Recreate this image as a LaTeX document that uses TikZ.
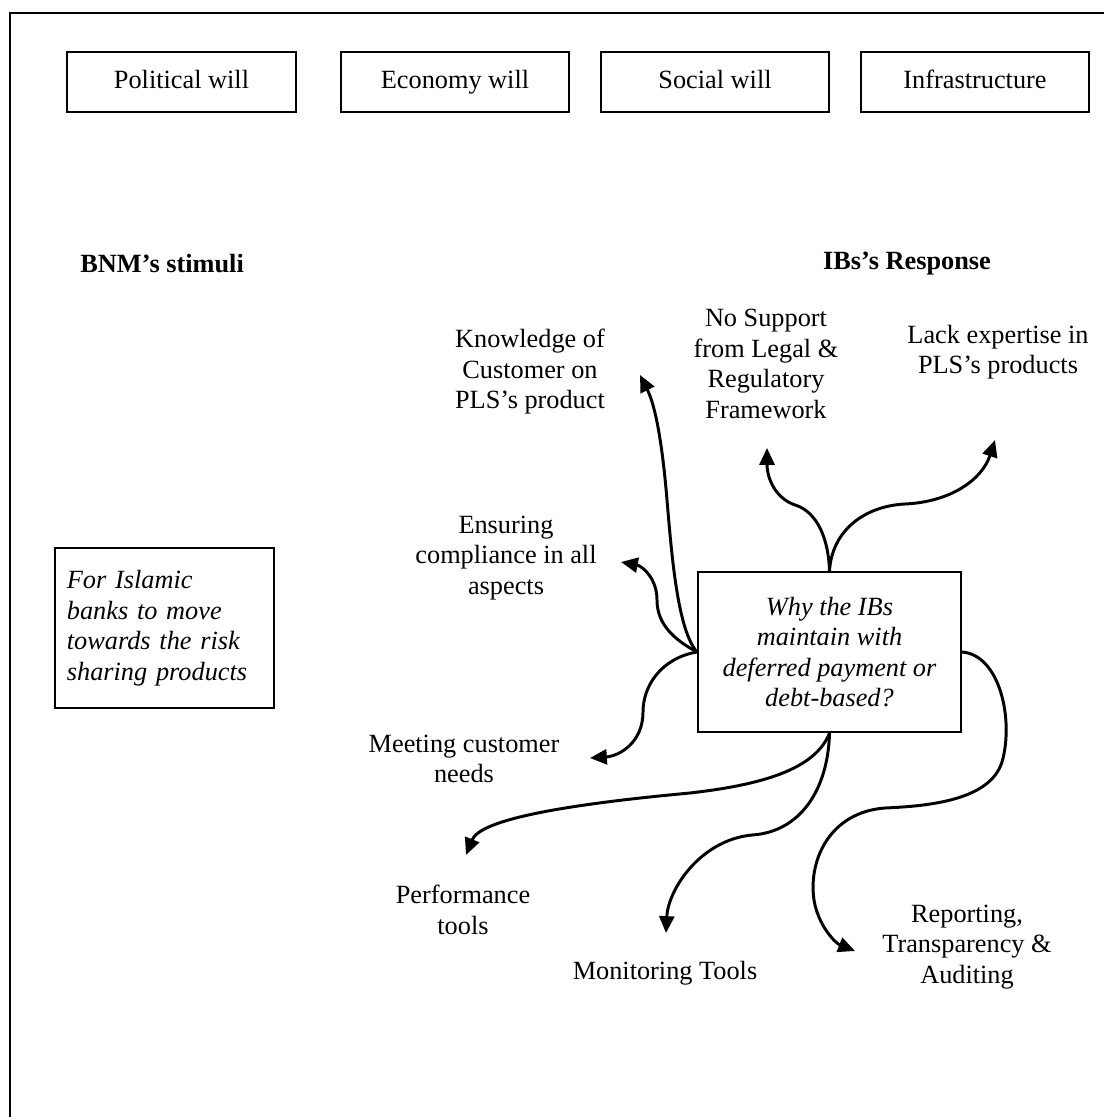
\documentclass[tikz,border=0pt]{standalone}
\usepackage{fontspec}
\setmainfont{Liberation Serif}
\usetikzlibrary{arrows.meta}
\newcommand\bodyfont{\fontsize{12}{13.9}\selectfont}

\begin{document}
\begin{tikzpicture}[x=0.01604cm,y=-0.01604cm,font=\bodyfont,
  will/.style={draw,line width=0.9pt,minimum width=3.66cm,minimum height=0.96cm,inner sep=0pt,
    text height=1.6ex,text depth=0.4ex},
  txt/.style={align=center,inner sep=0pt},
  flow/.style={line width=1.35pt,-{Triangle[length=2.7mm,width=2.4mm]}}]
\useasboundingbox (0,0) rectangle (1104,1117);
\draw[line width=0.9pt] (1104,13) -- (10,13) -- (10,1117);

% the four wills
\node[will] (pol) at (181.5,82) {Political will};
\node[will] (eco) at (455,82) {Economy will};
\node[will] (soc) at (715,82) {Social will};
\node[will] (infra) at (975,82) {Infrastructure};

\node[anchor=west,inner sep=0pt,font=\bodyfont\bfseries] (bnm) at (80,264) {BNM’s stimuli};
\node[inner sep=0pt,font=\bodyfont\bfseries] (resp) at (907,264) {IBs’s Response};

\node[draw,line width=0.9pt,minimum width=3.51cm,minimum height=2.57cm,
  text width=3.13cm,inner xsep=0.19cm,align=left,font=\bodyfont\itshape] (aim) at (164.5,628)
  {For Islamic\\banks to move\\towards the risk\\sharing products};

\node[draw,line width=0.9pt,minimum width=4.22cm,minimum height=2.57cm,txt,
  font=\bodyfont\itshape] (why) at (829.5,652)
  {Why the IBs\\maintain with\\deferred payment or\\debt-based?};

% responses
\node[txt] (know) at (530,372) {Knowledge of\\Customer on\\PLS’s product};
\node[txt] (legal) at (766,364) {No Support\\from Legal \&\\Regulatory\\Framework};
\node[txt] (lack) at (998,352) {Lack expertise in\\PLS’s products};
\node[txt] (ensure) at (506,558) {Ensuring\\compliance in all\\aspects};
\node[txt] (meet) at (464,759) {Meeting customer\\needs};
\node[txt] (perf) at (463,910) {Performance\\tools};
\node[txt] (monit) at (665,973) {Monitoring Tools};
\node[txt] (report) at (967,947) {Reporting,\\Transparency \&\\Auditing};

\coordinate (tKnow) at (640,375);
\coordinate (tEns) at (621,562);
\coordinate (tMeet) at (590,758);
\coordinate (tLegal) at (767,448);
\coordinate (tLack) at (995,440);
\coordinate (tPerf) at (466,855);
\coordinate (tMon) at (666,933);
\coordinate (tRep) at (855,951);

\draw[flow] (why.west) .. controls (678,630) and (672,560) .. (667,500) .. controls (662,440) and (655,405) .. (tKnow);
\draw[flow] (why.west) .. controls (675,640) and (657,625) .. (657,600) .. controls (657,578) and (642,566) .. (tEns);
\draw[flow] (why.west) .. controls (662,658) and (643,685) .. (643,712) .. controls (643,742) and (620,756) .. (tMeet);
\draw[flow] (why.north) .. controls (828,530) and (812,510) .. (795,505) .. controls (775,498) and (767,478) .. (tLegal);
\draw[flow] (why.north) .. controls (832,530) and (865,506) .. (905,504) .. controls (950,502) and (982,480) .. (tLack);
\draw[flow] (why.south) .. controls (815,770) and (760,785) .. (690,793) .. controls (560,805) and (480,820) .. (tPerf);
\draw[flow] (why.south) .. controls (828,790) and (800,832) .. (752,835) .. controls (700,840) and (668,890) .. (tMon);
\draw[flow] (why.east) .. controls (1000,655) and (1014,720) .. (1002,762) .. controls (990,800) and (930,806) .. (885,808)
  .. controls (830,812) and (808,860) .. (814,900) .. controls (818,925) and (835,943) .. (tRep);
\end{tikzpicture}
\end{document}
